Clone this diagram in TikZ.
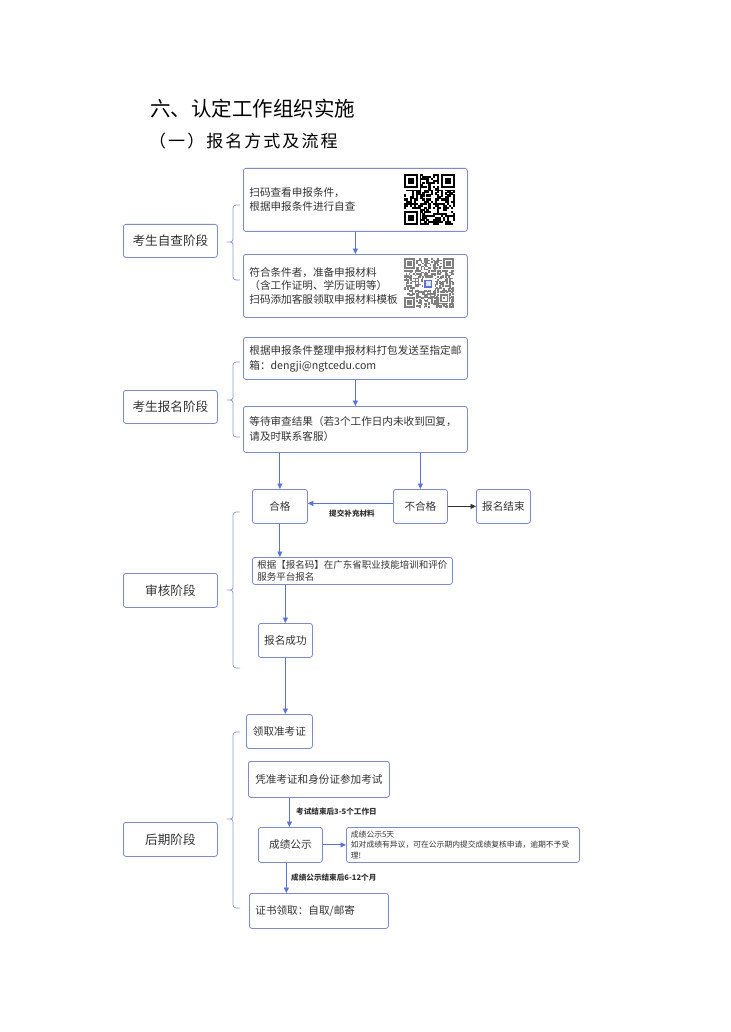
\documentclass[tikz,border=0pt]{standalone}
\usepackage{fontspec}
\setmainfont{Noto Sans CJK SC}
\usetikzlibrary{arrows.meta,calc}
\definecolor{bd}{HTML}{7F8BCB}
\definecolor{ar}{HTML}{5C72D4}
\definecolor{brcol}{HTML}{8F99D3}
\definecolor{txt}{HTML}{333333}
\definecolor{qrgray}{HTML}{808080}
\newcommand{\qrblock}[6]{%
  \begin{scope}[shift={(#1,#2)}]
    \pgfmathsetseed{#5}%
    \pgfmathsetmacro{\qm}{#3/#4}%
    \pgfmathtruncatemacro{\qn}{#4-1}%
    \foreach \i in {0,...,\qn}{%
      \foreach \j in {0,...,\qn}{%
        \pgfmathtruncatemacro{\qb}{rnd<0.5 ? 1 : 0}%
        \ifnum\qb=1 \fill[#6] ({\i*\qm},{\j*\qm}) rectangle ++({\qm+0.2},{\qm+0.2});\fi
      }}%
    \pgfmathsetmacro{\qf}{(#4-7)*\qm}%
    \foreach \fx/\fy in {0/0,\qf/0,0/\qf}{%
      \fill[white] ({\fx-\qm},{\fy-\qm}) rectangle ++({9*\qm},{9*\qm});
      \fill[#6] (\fx,\fy) rectangle ++({7*\qm},{7*\qm});
      \fill[white] ({\fx+\qm},{\fy+\qm}) rectangle ++({5*\qm},{5*\qm});
      \fill[#6] ({\fx+2*\qm},{\fy+2*\qm}) rectangle ++({3*\qm},{3*\qm});
    }%
  \end{scope}}
\newcommand{\brc}[4]{% x-tip, top, tip-y, bottom
  \draw[brcol, line width=0.75pt]
    (#1+13,#2) .. controls (#1+6,#2) .. (#1+6,#2+7)
    -- (#1+6,#3-6) .. controls (#1+6,#3) .. (#1,#3)
    .. controls (#1+6,#3) .. (#1+6,#3+6)
    -- (#1+6,#4-7) .. controls (#1+6,#4) .. (#1+13,#4);}
\tikzset{
  box/.style={draw=bd, line width=0.8pt, rounded corners=2.5pt, fill=white,
    inner xsep=6pt, inner ysep=2pt, text=txt, anchor=north west,
    font=\fontsize{10.6}{14}\selectfont},
  stagebox/.style={box, minimum width=94pt, font=\fontsize{12.6}{15}\selectfont},
  arr/.style={draw=ar, line width=0.9pt, -{Triangle[length=5.5pt,width=5pt]}},
  blkarr/.style={draw=txt, line width=0.9pt, -{Triangle[length=5.5pt,width=5pt]}},
  lbl/.style={inner sep=0pt, text=txt, font=\bfseries\fontsize{7.6}{9}\selectfont},
}
\begin{document}
\begin{tikzpicture}[x=1pt,y=-1pt]
\fill[white] (0,0) rectangle (730,1032);
\useasboundingbox (0,0) rectangle (730,1032);

% titles
\node[anchor=west, inner sep=0pt, text=black, font=\fontsize{20.5}{24}\selectfont] (t1) at (150,109) {六、认定工作组织实施};
\node[anchor=west, inner sep=0pt, text=black, font=\fontsize{17}{20}\selectfont\addfontfeature{LetterSpace=12}] (t2) at (149,141) {（一）报名方式及流程};

% ---------- stage 1
\node[stagebox, minimum height=33pt] (s1) at (123,224) {考生自查阶段};
\brc{227}{205}{242}{280}
\node[box, minimum width=224pt, minimum height=63pt, text width=212pt, align=left] (a1) at (243,168) {扫码查看申报条件，\\根据申报条件进行自查};
\node[box, minimum width=224pt, minimum height=63pt, text width=212pt, align=left, font=\fontsize{10.6}{13.6}\selectfont] (a2) at (243,254) {符合条件者，准备申报材料\\（含工作证明、学历证明等）\\扫码添加客服领取申报材料模板};
\qrblock{404}{174}{51}{25}{7}{black}
\qrblock{404}{258}{50}{33}{11}{qrgray}
\fill[white] (422.5,277.5) rectangle (435,290);
\draw[ar, line width=1.1pt, fill=ar!20] (425,280.5) rectangle (431.5,287);
\fill[white] (439.4,293.4) rectangle (449,303);
\fill[qrgray] (440.4,294.4) rectangle (448,302);
\fill[white] (441.9,295.9) rectangle (446.5,300.5);
\fill[qrgray] (443.4,297.4) rectangle (445,299);
\draw[arr] (a1.south) -- (a2.north);

% ---------- stage 2
\node[stagebox, minimum height=33pt] (s2) at (123,390) {考生报名阶段};
\brc{227}{362}{400}{437}
\node[box, minimum width=224pt, minimum height=42pt, text width=212pt, align=left, font=\fontsize{10.6}{15}\selectfont] (b1) at (243,337) {根据申报条件整理申报材料打包发送至指定邮\\箱：dengji@ngtcedu.com};
\node[box, minimum width=224pt, minimum height=46pt, text width=212pt, align=left, font=\fontsize{10.6}{15}\selectfont] (b2) at (243,406) {等待审查结果（若3个工作日内未收到回复，\\请及时联系客服）};
\draw[arr] (b1.south) -- (b2.north);

% ---------- stage 3
\node[stagebox, minimum height=34pt] (s3) at (123,573) {审核阶段};
\brc{227}{512}{590}{668}
\node[box, minimum width=55pt, minimum height=34pt, inner xsep=2pt] (hg) at (252,489) {合格};
\node[box, minimum width=54pt, minimum height=34pt, inner xsep=2pt] (bhg) at (393,489) {不合格};
\node[box, minimum width=54pt, minimum height=34pt, inner xsep=2pt] (end) at (476,489) {报名结束};
\draw[arr] (hg.north |- b2.south) -- (hg.north);
\draw[arr] (bhg.north |- b2.south) -- (bhg.north);
\draw[arr] ($(bhg.west)+(0,-3)$) -- ($(hg.east)+(0,-3)$);
\node[lbl] (lb1) at (352,514) {提交补充材料};
\draw[blkarr] (bhg.east) -- (end.west);
\node[box, minimum width=200pt, minimum height=27pt, text width=190pt, inner xsep=5pt, inner ysep=1pt, align=left, font=\fontsize{9.5}{12}\selectfont] (c) at (252,557) {根据【报名码】在广东省职业技能培训和评价\\服务平台报名};
\draw[arr] (hg.south) -- (hg.south |- c.north);
\node[box, minimum width=54pt, minimum height=34pt, inner xsep=2pt] (cg) at (258,623) {报名成功};
\draw[arr] (cg.north |- c.south) -- (cg.north);

% ---------- stage 4
\node[stagebox, minimum height=34pt] (s4) at (123,822) {后期阶段};
\brc{227}{732}{819}{908}
\node[box, minimum width=66pt, minimum height=34pt, inner xsep=2pt] (lq) at (246,714) {领取准考证};
\draw[arr] (cg.south) -- (cg.south |- lq.north);
\node[box, minimum width=141pt, minimum height=36pt, inner xsep=2pt] (pz) at (248,761) {凭准考证和身份证参加考试};
\node[box, minimum width=64pt, minimum height=35pt, inner xsep=2pt] (cj) at (258,827) {成绩公示};
\coordinate (cjtop) at ($(cj.north)+(-1,0)$);
\draw[arr] (cjtop |- pz.south) -- (cjtop);
\node[lbl, anchor=west] (lb2) at (296,812) {考试结束后3-5个工作日};
\node[box, minimum width=233pt, minimum height=35pt, text width=224pt, inner xsep=4.5pt, inner ysep=1pt, align=left, font=\fontsize{7.8}{10.3}\selectfont] (info) at (346,827) {成绩公示5天\\如对成绩有异议，可在公示期内提交成绩复核申请，逾期不予受\\理!};
\draw[arr] (cj.east) -- (info.west);
\node[box, minimum width=139pt, minimum height=35pt, text width=127pt, align=left] (zs) at (249,893) {证书领取：自取/邮寄};
\coordinate (cjbot) at ($(cj.south)+(-4,0)$);
\draw[arr] (cjbot) -- (cjbot |- zs.north);
\node[lbl, anchor=west] (lb3) at (291,878) {成绩公示结束后6-12个月};
\end{tikzpicture}
\end{document}
